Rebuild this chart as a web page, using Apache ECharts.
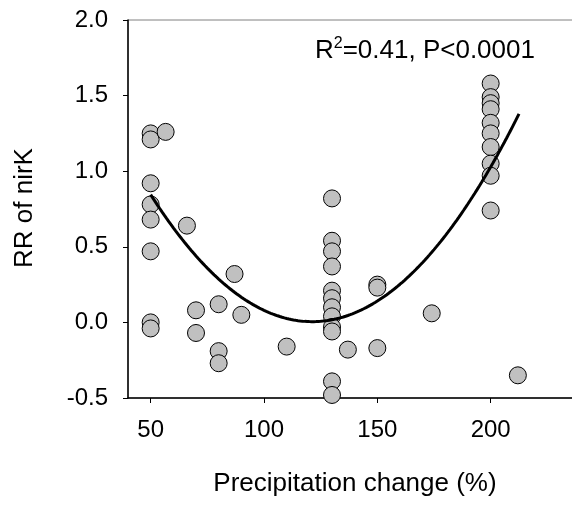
<!DOCTYPE html>
<html>
<head>
<meta charset="utf-8">
<script src="https://cdn.jsdelivr.net/npm/echarts@6/dist/echarts.min.js"></script>
<style>html,body{margin:0;padding:0;background:#fff}#c{width:572px;height:509px}</style>
</head>
<body>
<div id="c"></div>
<script>
// Data
const precipX = [50,50,50,50,50,50,50,50, 56.6, 66, 70,70, 80,80,80, 87, 90, 110,
  130,130,130,130,130,130,130,130,130,130,130,130, 137, 150,150,150, 174,
  200,200,200,200,200,200,200,200,200,200, 212];
const rrNirK = [1.25,1.21,0.92,0.78,0.68,0.47,0.00,-0.04, 1.26, 0.64, 0.08,-0.07, 0.12,-0.19,-0.27, 0.32, 0.05, -0.16,
  0.82,0.54,0.47,0.37,0.21,0.16,0.10,0.04,-0.03,-0.06,-0.39,-0.48, -0.18, 0.25,0.23,-0.17, 0.06,
  1.58,1.49,1.45,1.41,1.32,1.25,1.16,1.05,0.97,0.74, -0.35];
const xTicks = [50, 100, 150, 200];
const yTicks = [-0.5, 0.0, 0.5, 1.0, 1.5, 2.0];
// quadratic fit as drawn in the reference: y = a*(x-h)^2 + k
const fitA = 0.0001652, fitH = 121.3, fitK = 0.005;
const fitRange = [50, 212.5];
const annotation = ['R', '2', '=0.41, P<0.0001'];
const xTitle = 'Precipitation change (%)';
const yTitle = 'RR of nirK';

const fitLine = [];
for (let x = fitRange[0]; x <= fitRange[1]; x += 0.5) {
  fitLine.push([x, fitA * (x - fitH) * (x - fitH) + fitK]);
}

const FONT = '"Liberation Sans", Arial, sans-serif';
const chart = echarts.init(document.getElementById('c'), null, {renderer: 'canvas'});
chart.setOption({
  animation: false,
  backgroundColor: '#fff',
  grid: {left: 128, top: 20, width: 476, height: 378, show: true, borderColor: '#808080', borderWidth: 1,
         containLabel: false, outerBoundsMode: 'none'},
  xAxis: {
    type: 'value', min: 40, max: 250,
    axisLine: {show: true, onZero: false, lineStyle: {color: '#000', width: 1.5}},
    axisTick: {show: true, inside: false, length: 5, customValues: xTicks, lineStyle: {color: '#000'}},
    axisLabel: {customValues: xTicks, color: '#000', fontSize: 24, fontFamily: FONT, margin: 20},
    splitLine: {show: false}
  },
  yAxis: {
    type: 'value', min: -0.5, max: 2.0, interval: 0.5,
    axisLine: {show: true, onZero: false, lineStyle: {color: '#000', width: 1.5}},
    axisTick: {show: true, inside: false, length: 5, lineStyle: {color: '#000'}},
    axisLabel: {color: '#000', fontSize: 24, fontFamily: FONT, margin: 20, formatter: v => v.toFixed(1)},
    splitLine: {show: false}
  },
  series: [
    {
      type: 'scatter', z: 2,
      data: precipX.map((x, i) => [x, rrNirK[i]]),
      symbol: 'circle', symbolSize: 17,
      itemStyle: {color: '#c0c0c0', borderColor: '#000', borderWidth: 1, opacity: 1}
    },
    {
      type: 'line', z: 3, data: fitLine, showSymbol: false, smooth: false,
      lineStyle: {color: '#000', width: 3}
    }
  ],
  graphic: [
    {type: 'text', left: 315, top: 36, style: {
      text: '{a|' + annotation[0] + '}{s|' + annotation[1] + '}{a|' + annotation[2] + '}',
      rich: {a: {fontSize: 26, fontFamily: FONT, fill: '#000', verticalAlign: 'bottom'},
             s: {fontSize: 16, fontFamily: FONT, fill: '#000', verticalAlign: 'top', padding: [0,0,12,0]}}
    }},
    {type: 'text', x: 355, y: 484, style: {text: xTitle, fontSize: 26, fontFamily: FONT, fill: '#000', align: 'center', verticalAlign: 'middle'}},
    {type: 'text', x: 25, y: 208, rotation: Math.PI / 2, style: {text: yTitle, fontSize: 26, fontFamily: FONT, fill: '#000', align: 'center', verticalAlign: 'middle'}}
  ]
});
</script>
</body>
</html>
